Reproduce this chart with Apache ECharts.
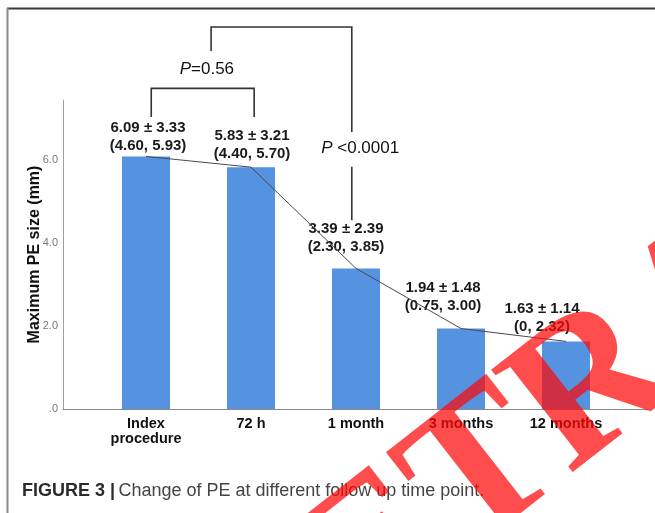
<!DOCTYPE html>
<html>
<head>
<meta charset="utf-8">
<script src="https://cdn.jsdelivr.net/npm/echarts@6/dist/echarts.min.js"></script>
<style>
  html, body { margin: 0; padding: 0; background: #fff; }
  #chart { width: 655px; height: 513px; }
</style>
</head>
<body>
<div id="chart"></div>
<script>
// Follow-up time points
const categories = ['Index\nprocedure', '72 h', '1 month', '3 months', '12 months'];
// Maximum PE size (mm): mean, SD, and interquartile bounds
const means = [6.09, 5.83, 3.39, 1.94, 1.63];
const sds = [3.33, 3.21, 2.39, 1.48, 1.14];
const q1 = [4.60, 4.40, 2.30, 0.75, 0];
const q3 = [5.93, 5.70, 3.85, 3.00, 2.32];
// Y axis ticks and their printed labels
const yTicks = [0, 2, 4, 6];
const yTickLabels = ['.0', '2.0', '4.0', '6.0'];
// Significance comparisons: [from category, to category, p text]
const comparisons = [
  [0, 1, '=0.56'],
  [0.5, 2, ' <0.0001']
];

// ---- layout / style ----
const Y_MAX = 7.45;
const PLOT = { left: 63, right: 8, top: 100, bottom: 104 };
const CAT = { left: 93.5, right: 36.5 };
const BAR_COLOR = '#5592e0';
const LABEL_FONT = 'Liberation Sans, Arial, sans-serif';
// per-bar label nudges [dx, dy]
const labelNudge = [[2, -2], [1, -5], [-10, -13], [-18, -14], [-24, -6]];
// bracket geometry in axis units: leg offsets (fraction of a band), y of top bar, leg ends, text spot
const bracketGeom = [
  { l: 0.05, r: 0.03, top: 7.73, lEnd: 7.04, rEnd: 7.04, gap: null, tx: 0.58, ty: 8.19 },
  { l: 0.12, r: -0.04, top: 9.21, lEnd: 8.63, rEnd: 4.55, gap: [6.68, 5.84], tx: 0.08, ty: 6.29 }
];

const fmtQ = v => (v === 0 ? '0' : v.toFixed(2));

const barData = means.map((m, i) => ({
  value: m,
  label: {
    offset: labelNudge[i],
    formatter: m.toFixed(2) + ' \u00b1 ' + sds[i].toFixed(2) + '\n(' + fmtQ(q1[i]) + ', ' + fmtQ(q3[i]) + ')'
  }
}));

const chart = echarts.init(document.getElementById('chart'), null, { renderer: 'canvas' });

function renderBracket(params, api) {
  const k = params.dataIndex;
  const c = comparisons[k];
  const g = bracketGeom[k];
  const bw = api.size([1, 0])[0];
  const xAt = (cat, frac) => api.coord([Math.floor(cat), 0])[0] + (cat - Math.floor(cat) + frac) * bw;
  const yAt = v => api.coord([0, v])[1];
  const xl = xAt(c[0], g.l);
  const xr = xAt(c[1], g.r);
  const style = { stroke: '#333', lineWidth: 1.6, fill: null };
  const children = [
    { type: 'polyline', shape: { points: [[xl, yAt(g.lEnd)], [xl, yAt(g.top)], [xr, yAt(g.top)], [xr, yAt(g.gap ? g.gap[0] : g.rEnd)]] }, style: style },
    {
      type: 'text',
      x: k === 0 ? xAt(c[0], g.tx) : xr + g.tx * bw,
      y: yAt(g.ty),
      style: {
        text: '{i|P}{n|' + c[2] + '}',
        align: 'center',
        verticalAlign: 'middle',
        rich: {
          i: { fontFamily: LABEL_FONT, fontStyle: 'italic', fontSize: 17, fill: '#111' },
          n: { fontFamily: LABEL_FONT, fontSize: 17, fill: '#111' }
        }
      }
    }
  ];
  if (g.gap) {
    children.push({ type: 'line', shape: { x1: xr, y1: yAt(g.gap[1]), x2: xr, y2: yAt(g.rEnd) }, style: style });
  }
  return { type: 'group', children: children };
}

chart.setOption({
  animation: false,
  backgroundColor: '#fff',
  grid: [
    { left: PLOT.left, right: PLOT.right, top: PLOT.top, bottom: PLOT.bottom },
    { left: CAT.left, right: CAT.right, top: PLOT.top, bottom: PLOT.bottom }
  ],
  xAxis: [
    {
      type: 'value', gridIndex: 0, min: 0, max: 1,
      axisLine: { show: true, lineStyle: { color: '#8a8a8a', width: 1 } },
      axisTick: { show: false }, axisLabel: { show: false }, splitLine: { show: false }
    },
    {
      type: 'category', gridIndex: 1, data: categories,
      axisLine: { show: false }, axisTick: { show: false },
      axisLabel: {
        margin: 7, color: '#111', fontFamily: LABEL_FONT, fontWeight: 'bold',
        fontSize: 14.5, lineHeight: 15, interval: 0
      }
    }
  ],
  yAxis: [
    {
      type: 'value', gridIndex: 0, min: 0, max: Y_MAX, interval: 2,
      axisLine: { show: true, lineStyle: { color: '#a0a0a0', width: 1 } },
      axisTick: { show: false }, splitLine: { show: false },
      axisLabel: {
        margin: 5, color: '#777', fontFamily: 'Liberation Sans Narrow, Arial Narrow, sans-serif', fontSize: 11,
        formatter: v => { const i = yTicks.indexOf(v); return i >= 0 ? yTickLabels[i] : ''; }
      },
      name: 'Maximum PE size (mm)', nameLocation: 'middle', nameGap: 20, nameMoveOverlap: false,
      nameTextStyle: { fontFamily: LABEL_FONT, fontWeight: 'bold', fontSize: 16, color: '#111' }
    },
    {
      type: 'value', gridIndex: 1, min: 0, max: Y_MAX, show: false
    }
  ],
  series: [
    {
      type: 'bar', xAxisIndex: 1, yAxisIndex: 1, data: barData, barWidth: 48,
      itemStyle: { color: BAR_COLOR },
      label: {
        show: true, position: 'top', distance: 0, color: '#1a1a1a',
        fontFamily: LABEL_FONT, fontWeight: 'bold', fontSize: 15, lineHeight: 17.5
      },
      z: 2
    },
    {
      type: 'line', xAxisIndex: 1, yAxisIndex: 1, data: means, symbol: 'none',
      lineStyle: { color: '#4a4a4a', width: 1 }, z: 3, silent: true
    },
    {
      type: 'custom', xAxisIndex: 1, yAxisIndex: 1, clip: false, z: 4,
      data: comparisons.map((c, i) => [i, 0]),
      renderItem: renderBracket
    }
  ],
  graphic: [
    // frame
    { type: 'line', shape: { x1: 7, y1: 8.5, x2: 655, y2: 8.5 }, style: { stroke: '#3a3a3a', lineWidth: 2 }, z: 10 },
    { type: 'line', shape: { x1: 7.5, y1: 8, x2: 7.5, y2: 513 }, style: { stroke: '#8c8c8c', lineWidth: 2 }, z: 10 },
    // caption
    {
      type: 'text', left: 22, top: 482, z: 10,
      style: {
        text: '{b|FIGURE 3 |} {r|Change of PE at different follow up time point.}',
        rich: {
          b: { fontFamily: LABEL_FONT, fontWeight: 'bold', fontSize: 18, fill: '#2b2b2b' },
          r: { fontFamily: LABEL_FONT, fontSize: 18, fill: '#444' }
        }
      }
    },
    // stamp
    {
      type: 'text', x: 708, y: 301, rotation: 38 * Math.PI / 180, z: 100, silent: true,
      style: {
        text: 'RETRACTED', align: 'center', verticalAlign: 'middle',
        font: 'bold 200px "Liberation Serif", "Times New Roman", serif',
        fill: 'rgba(255, 8, 8, 0.72)'
      }
    }
  ]
});
</script>
</body>
</html>
